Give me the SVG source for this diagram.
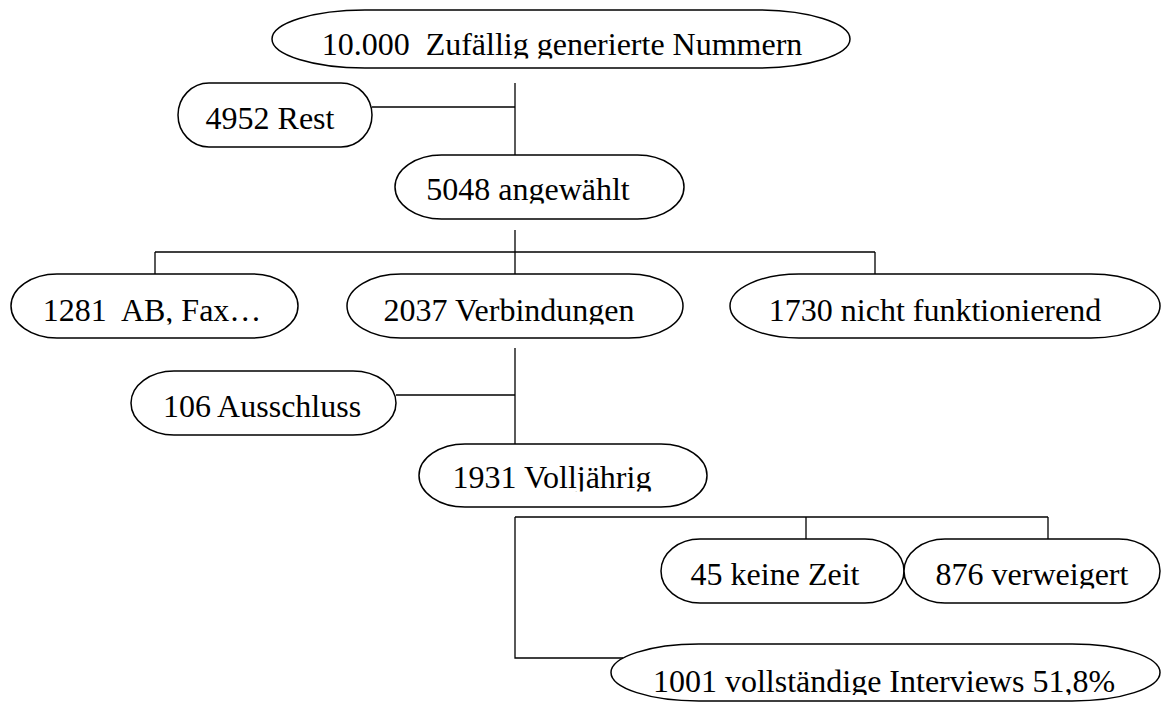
<svg xmlns="http://www.w3.org/2000/svg" width="1162" height="702" viewBox="0 0 1162 702">
<style>
.n{fill:#fff;stroke:#000;stroke-width:1.5}
.t{font-family:"Liberation Serif","Times New Roman",serif;font-size:32px;fill:#000;text-anchor:middle;white-space:pre}
.c{fill:none;stroke:#000;stroke-width:1.3}
</style>
<defs>
<clipPath id="k1"><rect x="0" y="0" width="1162" height="58.5"/></clipPath>
<clipPath id="k3"><rect x="0" y="0" width="1162" height="203.5"/></clipPath>
<clipPath id="k4"><rect x="0" y="0" width="1162" height="324.5"/></clipPath>
<clipPath id="k8"><rect x="0" y="0" width="1162" height="491.5"/></clipPath>
<clipPath id="k10"><rect x="0" y="0" width="1162" height="588.5"/></clipPath>
<clipPath id="k11"><rect x="0" y="0" width="1162" height="695"/></clipPath>
</defs>
<rect width="1162" height="702" fill="#fff"/>
<g id="connectors">
<path class="c" d="M515,83 V156"/>
<path class="c" d="M372,107 H515"/>
<path class="c" d="M515,230 V252"/>
<path class="c" d="M155,252 H875"/>
<path class="c" d="M155,252 V274 M515,252 V274 M875,252 V274"/>
<path class="c" d="M515,348 V444"/>
<path class="c" d="M396,395 H515"/>
<path class="c" d="M515,517 V658 H623"/>
<path class="c" d="M515,517 H1048"/>
<path class="c" d="M806,517 V539 M1048,517 V539"/>
</g>
<g id="n1"><rect class="n" x="272" y="10" width="578" height="58" rx="93" ry="29"/><text class="t" x="562" y="55" clip-path="url(#k1)">10.000  Zufällig generierte Nummern</text></g>
<g id="n2"><rect class="n" x="178" y="83" width="194" height="64" rx="31" ry="32"/><text class="t" x="270" y="129">4952 Rest</text></g>
<g id="n3"><rect class="n" x="395" y="155" width="289" height="64" rx="46.5" ry="32"/><text class="t" x="528" y="200" clip-path="url(#k3)">5048 angewählt</text></g>
<g id="n4"><rect class="n" x="11" y="274" width="287" height="64" rx="46" ry="32"/><text class="t" x="152" y="321" clip-path="url(#k4)">1281  AB, Fax…</text></g>
<g id="n5"><rect class="n" x="347" y="274" width="336" height="64" rx="54" ry="32"/><text class="t" x="509" y="321" clip-path="url(#k4)">2037 Verbindungen</text></g>
<g id="n6"><rect class="n" x="730" y="274" width="430" height="64" rx="69" ry="32"/><text class="t" x="935" y="321">1730 nicht funktionierend</text></g>
<g id="n7"><rect class="n" x="131" y="371" width="265" height="64" rx="43" ry="32"/><text class="t" x="262" y="417">106 Ausschluss</text></g>
<g id="n8"><rect class="n" x="419" y="444" width="288" height="63" rx="46" ry="31.5"/><text class="t" x="552" y="488" clip-path="url(#k8)">1931 Volljährig</text></g>
<g id="n9"><rect class="n" x="661" y="539" width="243" height="64" rx="39" ry="32"/><text class="t" x="775" y="585">45 keine Zeit</text></g>
<g id="n10"><rect class="n" x="904" y="539" width="256" height="64" rx="41" ry="32"/><text class="t" x="1032" y="585" clip-path="url(#k10)">876 verweigert</text></g>
<g id="n11"><rect class="n" x="611" y="644" width="549" height="57" rx="88" ry="28.5"/><text class="t" x="884" y="692" clip-path="url(#k11)">1001 vollständige Interviews 51,8%</text></g>
</svg>
